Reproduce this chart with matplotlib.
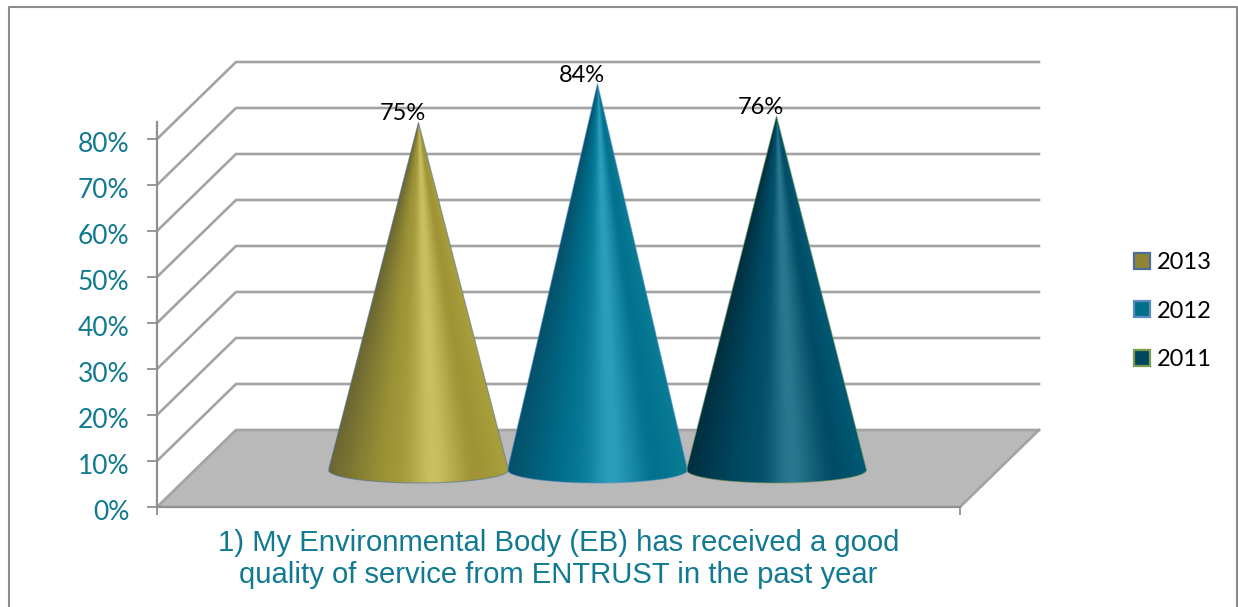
import numpy as np
import matplotlib
matplotlib.use("Agg")
import matplotlib.pyplot as plt
from matplotlib.colors import LinearSegmentedColormap, ListedColormap
from matplotlib.lines import Line2D
from matplotlib.patches import Patch, Polygon
from matplotlib.transforms import ScaledTranslation

series = ["2013", "2012", "2011"]
value_labels = ["75%", "84%", "76%"]
cone_heights = [75.6, 84, 77]
y_ticks = [0, 10, 20, 30, 40, 50, 60, 70, 80]
y_tick_labels = ["0%", "10%", "20%", "30%", "40%", "50%", "60%", "70%", "80%"]
x_title = "1) My Environmental Body (EB) has received a good\nquality of service from ENTRUST in the past year"
fill_colors = ["#8f8433", "#007088", "#00475f"]
edge_colors = ["#4a6f9e", "#5b8cc5", "#7a9a50"]
cone_stops = [
    ["#6a6632", "#9c9235", "#a59a3e", "#d0c566", "#9d9135", "#aaa03c"],
    ["#05506a", "#006f8c", "#0a7c98", "#30a4c2", "#006f8c", "#0a7d96"],
    ["#012f40", "#004a64", "#04506c", "#2f7e96", "#004a64", "#005a75"],
]
stop_pos = [0, 0.3, 0.42, 0.58, 0.8, 1]
teal = "#117a92"
grid = "#a3a3a3"

W, H = 1238, 607
fig = plt.figure(figsize=(W / 100, H / 100), dpi=100, facecolor="white")
px_per_pct = 4.6
left_px, right_px, bottom_px = 157, 960, 507
ax = fig.add_axes([left_px / W, (H - bottom_px) / H, (right_px - left_px) / W, 80 * px_per_pct / H])
ax.patch.set_visible(False)
cat_px = 179
first_px = 418.5
x0 = (left_px - first_px) / cat_px
x1 = (right_px - first_px) / cat_px
depth_x = 79 / cat_px
depth_y = 77 / px_per_pct
base_y = 37 / px_per_pct
half_w = 90 / cat_px
semi_minor = 13 / px_per_pct


def soft_cmap(stops, name):
    """Colour ramp from the stops, softened so the shading has no hard bands."""
    base = LinearSegmentedColormap.from_list(name, list(zip(stop_pos, stops)))(np.linspace(0, 1, 256))
    kernel = np.ones(25) / 25
    padded = np.pad(base, ((12, 12), (0, 0)), mode="edge")
    smooth = np.column_stack([np.convolve(padded[:, c], kernel, mode="valid") for c in range(4)])
    return ListedColormap(np.clip(smooth, 0, 1))


def cone_shading(height):
    """Shading coordinate that follows the cone surface, converging at the apex."""
    xs = np.linspace(-1, 1, 300)
    ys = np.linspace(-semi_minor, height, 500)
    frac = np.clip(1 - np.maximum(ys, 0) / height, 0.004, 1)
    return np.clip((xs[None, :] / frac[:, None] + 1) / 2, 0, 1)


# floor
ax.add_patch(Polygon([(x0, 0), (x1, 0), (x1 + depth_x, depth_y), (x0 + depth_x, depth_y)],
                     closed=True, fc="#b9b9b9", ec="none", clip_on=False, zorder=1))
# walls and gridlines
for t in y_ticks:
    ax.plot([x0, x0 + depth_x, x1 + depth_x], [t, t + depth_y, t + depth_y],
            color=grid, lw=1.9, clip_on=False, zorder=1.5 if t else 1.2, solid_joinstyle="miter")
ax.plot([x1, x1 + depth_x], [0, depth_y], color=grid, lw=1.9, clip_on=False, zorder=1.5)

# cones
theta = np.linspace(np.pi, 2 * np.pi, 80)
for i, (v, lab, stops, ec) in enumerate(zip(cone_heights, value_labels, cone_stops, edge_colors)):
    apex = (i, v + base_y)
    arc = np.column_stack([i + half_w * np.cos(theta), base_y + semi_minor * np.sin(theta)])
    outline = np.vstack([apex, arc])
    im = ax.imshow(cone_shading(v), cmap=soft_cmap(stops, f"c{i}"), aspect="auto", origin="lower",
                   vmin=0, vmax=1, extent=(i - half_w, i + half_w, base_y - semi_minor, v + base_y),
                   zorder=3, interpolation="bilinear")
    im.set_clip_box(fig.bbox)
    im.set_clip_path(Polygon(outline, closed=True, transform=ax.transData))
    ax.add_patch(Polygon(outline, closed=True, fc="none", ec=ec, lw=0.8, alpha=0.55, clip_on=False, zorder=3.2))
    ax.annotate(lab, xy=apex, xytext=(-11.5, 6), textcoords="offset points", ha="center", va="center",
                fontsize=17, family="Lato", color="black", zorder=5, annotation_clip=False)

ax.set_xlim(x0, x1)
ax.set_ylim(0, 80)
for s in ("top", "right"):
    ax.spines[s].set_visible(False)
for s in ("left", "bottom"):
    ax.spines[s].set_color("#909090")
    ax.spines[s].set_linewidth(1.6)
    ax.spines[s].set_zorder(2)
ax.spines["left"].set_bounds(0, 83.7)
ax.set_yticks(y_ticks, y_tick_labels, fontsize=19, family="Lato", color=teal)
ax.tick_params(axis="y", length=7, width=1.3, color="#909090", pad=13)
shift = ScaledTranslation(0, -2 / 72, fig.dpi_scale_trans)
for lbl in ax.get_yticklabels():
    lbl.set_transform(lbl.get_transform() + shift)
ax.set_xticks([x0, x1], ["", ""])
ax.tick_params(axis="x", length=6, width=1.3, color="#909090", pad=0)
ax.set_xlabel(x_title, fontsize=21.1, family="Liberation Sans", color=teal, linespacing=1.17, labelpad=10)

handles = [Patch(fc=f, ec=e, lw=1.6) for f, e in zip(fill_colors, edge_colors)]
fig.legend(handles, series, loc="center left", bbox_to_anchor=(1134 / W, 1 - 311 / H), frameon=False,
           prop={"family": "Lato", "size": 17}, handlelength=0.68, handleheight=0.68,
           handletextpad=0.27, labelspacing=1.16, labelcolor="black", borderpad=0, borderaxespad=0)

# chart frame (runs off the bottom of the image)
bx, by = 8.5 / W, 1 - 6.5 / H
rx = 1236.5 / W
fig.add_artist(Line2D([bx, bx, rx, rx], [0, by, by, 0], color="#8c8c8c", lw=1.5, transform=fig.transFigure))

fig.savefig("out.png", dpi=100)
